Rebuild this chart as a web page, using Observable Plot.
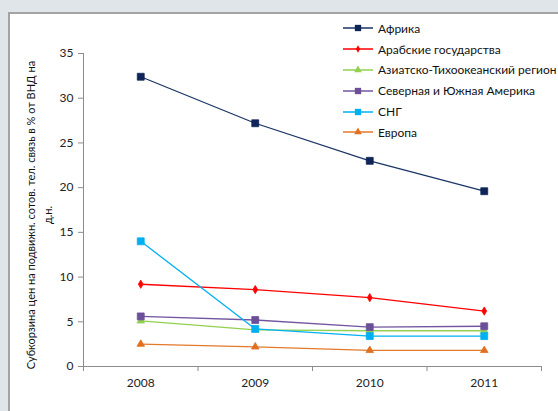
<!DOCTYPE html>
<html>
<head>
<meta charset="utf-8">
<script src="https://cdn.jsdelivr.net/npm/d3@7"></script>
<script src="https://cdn.jsdelivr.net/npm/@observablehq/plot@0.6"></script>
<style>
  html, body { margin: 0; padding: 0; }
  body { width: 558px; height: 411px; background: #dfe5e8; position: relative; overflow: hidden; font-family: Lato, "Open Sans", sans-serif; }
  #panel { position: absolute; left: 8px; top: 12px; right: 0; bottom: 0; background: #fff; border-left: 2px solid #a3a3a3; border-top: 2px solid #a3a3a3; }
  #chart { position: absolute; left: 0; top: 0; }
  #legend { position: absolute; left: 343px; top: 18px; font-size: 12px; color: #111; }
  #legend .row { display: flex; align-items: center; height: 20.8px; }
  #legend svg { margin-right: 4px; }
</style>
</head>
<body>
<div id="panel"></div>
<div id="chart"></div>
<div id="legend"></div>
<script>
// Years on the category axis
const years = [2008, 2009, 2010, 2011];

// Regions, their colours and marker shapes
const regions = [
  "Африка",
  "Арабские государства",
  "Азиатско-Тихоокеанский регион",
  "Северная и Южная Америка",
  "СНГ",
  "Европа"
];
const colors = ["#1a3566", "#ff0000", "#92d050", "#7356a0", "#00b0f0", "#e5792a"];
const markerColors = ["#0f2557", "#ff0000", "#92d050", "#6b4f98", "#00b0f0", "#e07020"];
const symbols = ["square", "diamond", "triangle", "square", "square", "triangle"];
const markerR = [3.9, 2.5, 2.8, 3.9, 3.9, 2.8];

// Mobile-cellular sub-basket price, % of GNI per capita
const africa    = [32.4, 27.2, 23.0, 19.6];
const arab      = [9.2, 8.6, 7.7, 6.2];
const asiaPac   = [5.1, 4.1, 4.0, 4.0];
const americas  = [5.6, 5.2, 4.4, 4.5];
const cis       = [14.0, 4.2, 3.4, 3.4];
const europe    = [2.5, 2.2, 1.8, 1.8];

const seriesValues = [africa, arab, asiaPac, americas, cis, europe];

// Y axis ticks and title
const yTicks = [0, 5, 10, 15, 20, 25, 30, 35];
const yTitle = "Субкорзина цен на подвижн. сотов. тел. связь в % от ВНД на\nд.н.";

const rows = regions.flatMap((region, i) =>
  years.map((year, j) => ({region, year, value: seriesValues[i][j], idx: i}))
);

const bounds = [2007.5, 2008.5, 2009.5, 2010.5, 2011.5];
const axisColor = "#8c8c8c";
const font = "Lato, 'Open Sans', sans-serif";

const chart = Plot.plot({
  width: 558,
  height: 411,
  marginLeft: 83,
  marginRight: 17,
  marginTop: 53,
  marginBottom: 45,
  style: {background: "transparent", fontFamily: font, fontSize: "12px", color: "#222"},
  x: {domain: [2007.5, 2011.5]},
  y: {domain: [0, 35]},
  color: {domain: regions, range: colors},
  symbol: {domain: regions, range: symbols},
  marks: [
    // axis lines
    Plot.ruleY([0], {stroke: axisColor, strokeWidth: 1}),
    Plot.ruleX([2007.5], {y1: 0, y2: 35, stroke: axisColor, strokeWidth: 1}),
    // y axis ticks and labels
    Plot.axisY({ticks: yTicks, tickSize: 5, tickPadding: 5, stroke: axisColor, label: null, fontSize: 12, fill: "#222"}),
    // x axis: tick marks between categories, labels centred on categories
    Plot.axisX({ticks: bounds, tickSize: 5, tickFormat: () => "", stroke: axisColor, label: null}),
    Plot.axisX({ticks: years, tickSize: 0, tickPadding: 12, tickFormat: d => String(d), label: null, fontSize: 12, fill: "#222"}),
    // y axis title
    Plot.text([yTitle], {
      frameAnchor: "left", rotate: -90, dx: -45, dy: 5,
      lineHeight: 1.55, fontSize: 11, fill: "#111", textAnchor: "middle", lineAnchor: "middle"
    }),
    // series lines
    Plot.line(rows, {x: "year", y: "value", z: "region", stroke: "region", strokeWidth: 1.3}),
    // markers
    ...regions.map((region, i) =>
      Plot.dot(rows.filter(d => d.idx === i), {
        x: "year", y: "value", symbol: () => region, r: markerR[i],
        fill: markerColors[i], stroke: markerColors[i], strokeWidth: 0.8
      })
    )
  ]
});
document.getElementById("chart").appendChild(chart);

// Legend
const legend = document.getElementById("legend");
const symbolPaths = {
  square: d3.symbol(d3.symbolSquare, 40)(),
  diamond: d3.symbol(d3.symbolDiamond, 16)(),
  triangle: d3.symbol(d3.symbolTriangle, 25)()
};
regions.forEach((region, i) => {
  const row = document.createElement("div");
  row.className = "row";
  row.innerHTML =
    `<svg width="31" height="10" viewBox="0 0 31 10">
       <line x1="0" x2="30" y1="5" y2="5" stroke="${colors[i]}" stroke-width="1.5"></line>
       <path transform="translate(15,5)" d="${symbolPaths[symbols[i]]}" fill="${markerColors[i]}"></path>
     </svg><span>${region}</span>`;
  legend.appendChild(row);
});
</script>
</body>
</html>
